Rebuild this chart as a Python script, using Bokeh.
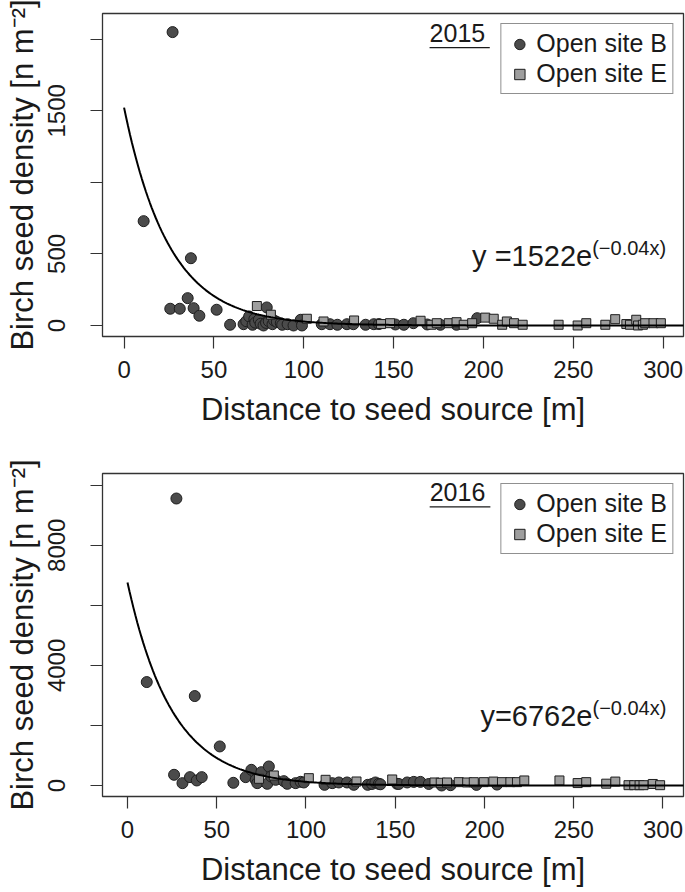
import numpy as np
from bokeh.plotting import figure
from bokeh.layouts import column
from bokeh.models import FixedTicker, Label, BoxAnnotation, ColumnDataSource
from bokeh.embed import file_html
from bokeh.resources import INLINE

# ---------------- data ----------------
# 2015, open site B (circles)
b15_dist = [10.9, 25.7, 27.0, 31.0, 35.4, 37.2, 38.7, 41.9, 51.5, 59.0, 66.5, 68.0,
            69.6, 71.5, 72.5, 73.0, 75.0, 76.0, 77.6, 79.0, 79.4, 80.5, 82.6, 83.5,
            85.0, 87.2, 88.0, 91.0, 94.3, 98.3, 99.0, 110.0, 114.6, 118.7, 124.0,
            127.6, 134.4, 139.0, 141.8, 151.0, 155.7, 161.0, 168.7, 176.0, 185.0, 196.5]
b15_dens = [729, 117, 2050, 117, 191, 470, 121, 68, 110, 5, 9, 30,
            63, 5, 45, 20, 40, 12, 0, 18, 126, 30, 9, 35,
            25, 16, 5, 9, 0, 40, 0, 9, 9, 5, 9,
            9, 5, 9, 10, 7, 5, 16, 7, 5, 5, 51]
# 2015, open site E (squares)
e15_dist = [73.9, 81.7, 101.7, 111.0, 128.0, 143.0, 148.0, 165.0, 171.0, 174.0, 180.7,
            185.0, 189.0, 193.7, 201.0, 205.7, 210.4, 213.0, 217.0, 221.8, 241.8,
            252.4, 257.2, 267.8, 273.3, 279.5, 281.5, 285.0, 286.0, 288.7, 290.0,
            294.6, 298.7]
e15_dens = [136, 75, 47, 28, 35, 10, 16, 33, 5, 16, 16,
            23, 5, 16, 55, 47, 5, 28, 16, 5, 5,
            0, 16, 5, 44, 10, 5, 40, 0, 5, 16,
            16, 16]

# 2016, open site B (circles)
b16_dist = [10.8, 26.1, 27.4, 30.8, 35.0, 37.7, 38.8, 41.6, 51.7, 59.3, 66.2, 69.4,
            71.8, 72.7, 75.0, 78.3, 79.2, 80.5, 83.0, 87.6, 89.5, 94.2, 97.0, 98.8,
            110.4, 114.7, 118.4, 123.0, 126.8, 134.6, 137.0, 138.9, 140.8, 141.7,
            151.0, 152.0, 156.7, 160.4, 164.1, 168.8, 176.0, 181.0, 195.5, 207.0]
b16_dens = [3444, 356, 9557, 78, 278, 2978, 167, 278, 1300, 89, 278, 522,
            189, 78, 444, 56, 633, 300, 189, 144, 56, 78, 122, 100,
            22, 78, 100, 100, 22, 22, 50, 100, 56, 40,
            56, 50, 100, 120, 120, 50, 0, 10, 20, 30]
# 2016, open site E (squares)
e16_dist = [73.7, 82.0, 101.6, 111.0, 128.3, 148.3, 172.0, 175.5, 179.0, 185.6, 190.3,
            194.0, 199.6, 205.0, 209.8, 214.5, 218.2, 222.3, 242.0, 252.2, 257.0,
            268.2, 273.3, 280.7, 283.9, 286.9, 289.1, 294.3, 298.4]
e16_dens = [222, 333, 244, 189, 133, 200, 100, 90, 100, 111, 100,
            110, 111, 130, 111, 111, 111, 167, 167, 80, 111,
            60, 130, 10, 10, 10, 10, 50, 10]

# fitted curves y = a * exp(-rate * x)
fit15_a = 1522
fit16_a = 6762
fit_rate = 0.04

x_ticks = [0, 50, 100, 150, 200, 250, 300]
y15_ticks = [0, 500, 1000, 1500, 2000]
y15_hidden = [1000, 2000]
y16_ticks = [0, 2000, 4000, 6000, 8000, 10000]
y16_hidden = [2000, 6000, 10000]

FONT = "Liberation Sans"
CIRCLE_FILL = "#4b4b4b"
SQUARE_FILL = "#9e9e9e"
EDGE = "#1e1e1e"
TXT = "#1a1a1a"


def panel(bx, by, ex, ey, a, yticks, yhidden, xr, yr, h, btop, bbot,
          year, year_xy, underline, eq_main, eq_pos):
    p = figure(width=685, height=h, x_range=xr, y_range=yr,
               output_backend="svg", toolbar_location=None,
               min_border_left=102, min_border_right=2,
               min_border_top=btop, min_border_bottom=bbot,
               background_fill_color="white", border_fill_color="white")
    p.grid.visible = False
    p.outline_line_color = "#333333"
    p.outline_line_width = 1.3

    src_b = ColumnDataSource(dict(x=bx, y=by))
    src_e = ColumnDataSource(dict(x=ex, y=ey))
    p.scatter("x", "y", source=src_b, marker="circle", size=11,
              fill_color=CIRCLE_FILL, line_color=EDGE, line_width=1,
              legend_label="Open site B")
    p.scatter("x", "y", source=src_e, marker="square", size=9,
              fill_color=SQUARE_FILL, line_color=EDGE, line_width=1,
              legend_label="Open site E")

    # fitted curve
    xs = np.linspace(0, 330, 300)
    p.line(xs, a * np.exp(-fit_rate * xs), line_color="black", line_width=2)

    # axes
    for ax in (p.xaxis, p.yaxis):
        ax.axis_line_color = None
        ax.major_tick_in = 0
        ax.major_tick_out = 12
        ax.major_tick_line_color = "#333333"
        ax.major_tick_line_width = 1.2
        ax.minor_tick_line_color = None
        ax.major_label_text_font = FONT
        ax.major_label_text_font_size = "24px"
        ax.major_label_text_color = TXT
        ax.axis_label_text_font = FONT
        ax.axis_label_text_font_size = "31px"
        ax.axis_label_text_font_style = "normal"
        ax.axis_label_text_color = TXT
    p.xaxis.major_label_standoff = 12
    p.xaxis.axis_label_standoff = 11
    p.yaxis.major_label_standoff = 25
    p.yaxis.axis_label_standoff = 6
    p.xaxis.ticker = FixedTicker(ticks=x_ticks)
    p.yaxis.ticker = FixedTicker(ticks=yticks)
    p.yaxis.major_label_overrides = {t: "" for t in yhidden}
    p.yaxis.major_label_orientation = "vertical"
    p.xaxis.axis_label = "Distance to seed source [m]"
    p.yaxis.axis_label = "Birch seed density [n m\u207b\u00b2]"

    # legend
    lg = p.legend[0]
    lg.location = "top_right"
    lg.margin = 10
    lg.padding = 5
    lg.spacing = 1
    lg.label_text_font = FONT
    lg.label_text_font_size = "25px"
    lg.label_text_color = TXT
    lg.label_height = 26
    lg.glyph_height = 26
    lg.glyph_width = 26
    lg.label_standoff = 4
    lg.border_line_color = "#222222"
    lg.border_line_width = 1.2
    lg.background_fill_color = "white"
    lg.background_fill_alpha = 1.0

    # year label (underlined)
    p.add_layout(Label(x=year_xy[0], y=year_xy[1], text=year, text_font=FONT,
                       text_font_size="25px", text_color=TXT,
                       text_baseline="alphabetic", text_align="left"))
    p.add_layout(BoxAnnotation(left=underline[0], right=underline[1],
                               bottom=underline[2], top=underline[3],
                               fill_color=TXT, fill_alpha=1.0,
                               line_alpha=0))

    # equation
    p.add_layout(Label(x=eq_pos[0], y=eq_pos[1], text=eq_main, text_font=FONT,
                       text_font_size="29px", text_color=TXT,
                       text_align="right", text_baseline="alphabetic"))
    p.add_layout(Label(x=eq_pos[0], y=eq_pos[2], text="(\u22120.04x)",
                       text_font=FONT, text_font_size="20px",
                       text_color=TXT, text_align="left",
                       text_baseline="alphabetic"))
    return p


p1 = panel(b15_dist, b15_dens, e15_dist, e15_dens, fit15_a,
           y15_ticks, y15_hidden, (-12, 311.3), (-77, 2180), 446, 13, 110,
           "2015", (170, 2047), (170, 203.5, 1937, 1946), "y =1522e",
           (260.5, 484, 544))
p2 = panel(b16_dist, b16_dens, e16_dist, e16_dens, fit16_a,
           y16_ticks, y16_hidden, (-14, 311.5), (-367, 10390), 445, 27, 95,
           "2016", (169.3, 9777), (169.3, 203.3, 9255, 9298), "y=6762e",
           (260.5, 2310, 2590))

layout = column(p1, p2)
open("out.html", "w").write(file_html(layout, INLINE))
